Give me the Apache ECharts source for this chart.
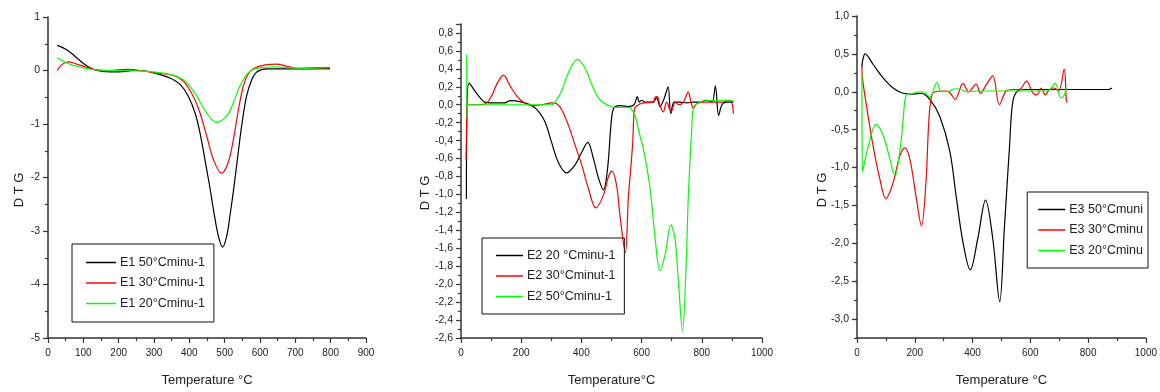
<!DOCTYPE html>
<html>
<head>
<meta charset="utf-8">
<script src="https://cdn.jsdelivr.net/npm/echarts@6/dist/echarts.min.js"></script>
<style>
  html, body { margin: 0; padding: 0; background: #fff; }
  #chart { width: 1160px; height: 392px; }
</style>
</head>
<body>
<div id="chart"></div>
<script>
// DTG curves, [temperature °C, DTG]
const E1_50 = [[26,0.47],[53,0.39],[81,0.24],[109,0.09],[138,0.0],[175,-0.025],[213,-0.02],[240,0.0],[270,-0.005],[308,-0.06],[345,-0.14],[374,-0.26],[397,-0.48],[416,-0.79],[430,-1.16],[444,-1.66],[459,-2.22],[468,-2.59],[482,-3.09],[494,-3.30],[506,-3.09],[515,-2.71],[525,-2.24],[536,-1.66],[548,-1.04],[562,-0.48],[577,-0.17],[591,-0.03],[619,0.03],[666,0.03],[713,0.03],[798,0.04]];
const E1_30 = [[26,0.0],[39,0.11],[57,0.16],[81,0.12],[109,0.06],[138,0.01],[175,0.0],[222,0.02],[260,0.0],[308,-0.05],[355,-0.09],[383,-0.2],[411,-0.48],[430,-0.79],[449,-1.22],[468,-1.66],[491,-1.92],[510,-1.72],[525,-1.28],[539,-0.73],[553,-0.29],[567,-0.06],[586,0.05],[619,0.11],[647,0.12],[676,0.08],[704,0.04],[751,0.05],[798,0.05]];
const E1_20 = [[26,0.24],[53,0.14],[81,0.08],[109,0.04],[138,0.01],[175,0.0],[222,0.0],[270,-0.01],[317,-0.04],[364,-0.11],[393,-0.23],[421,-0.48],[449,-0.79],[477,-0.97],[506,-0.85],[525,-0.6],[543,-0.29],[567,-0.04],[591,0.04],[638,0.07],[685,0.05],[798,0.02]];

const E2_20 = [[18,-1.05],[20,0.0],[27,0.24],[46,0.155],[63,0.08],[80,0.03],[120,0.02],[146,0.02],[163,0.045],[202,0.03],[235,-0.01],[257,-0.07],[279,-0.19],[301,-0.42],[323,-0.64],[351,-0.76],[379,-0.67],[401,-0.53],[421,-0.42],[440,-0.6],[456,-0.81],[473,-0.95],[487,-0.71],[500,-0.16],[509,-0.03],[530,-0.01],[556,-0.02],[575,0.0],[586,0.09],[592,0.03],[600,0.05],[611,0.03],[639,0.03],[650,0.08],[661,-0.02],[675,0.07],[688,0.2],[697,-0.1],[708,0.03],[728,0.03],[750,0.02],[772,0.03],[794,0.03],[816,0.05],[834,0.03],[845,0.21],[856,-0.12],[867,0.0],[883,0.03],[905,0.03]];
const E2_30 = [[17,-0.62],[19,-0.15],[21,0.0],[50,0.0],[80,0.01],[102,0.1],[119,0.23],[141,0.33],[163,0.21],[185,0.1],[207,0.03],[235,-0.01],[270,0.0],[301,0.02],[318,0.01],[334,-0.05],[357,-0.23],[379,-0.45],[401,-0.67],[423,-0.93],[448,-1.15],[473,-1.01],[490,-0.8],[502,-0.74],[517,-0.9],[528,-1.23],[546,-1.65],[556,-1.04],[570,-0.45],[576,-0.05],[584,-0.01],[606,0.02],[639,0.03],[644,0.08],[652,0.09],[661,-0.01],[672,-0.08],[683,0.03],[698,-0.08],[712,0.03],[723,0.0],[739,0.03],[755,0.14],[764,0.03],[772,-0.04],[783,0.01],[805,0.03],[840,0.03],[870,0.03],[888,0.05],[899,0.03],[905,-0.1]];
const E2_50 = [[19,0.56],[20,-0.15],[22,0.0],[100,0.0],[200,0.0],[301,0.0],[312,0.03],[334,0.15],[357,0.36],[387,0.505],[412,0.41],[434,0.23],[456,0.08],[478,0.01],[500,-0.02],[506,-0.03],[555,-0.03],[573,-0.08],[584,-0.19],[597,-0.38],[606,-0.49],[628,-0.93],[645,-1.49],[661,-1.85],[678,-1.67],[697,-1.34],[711,-1.49],[722,-1.96],[736,-2.53],[748,-1.78],[755,-1.04],[763,-0.49],[766,-0.3],[772,-0.03],[783,0.01],[805,0.04],[872,0.05],[905,0.05]];

const E3_50 = [[17,0.33],[20,0.42],[28,0.5],[56,0.36],[91,0.18],[125,0.05],[160,-0.02],[194,-0.03],[223,-0.02],[252,-0.1],[286,-0.32],[321,-0.78],[344,-1.4],[367,-1.99],[392,-2.35],[418,-1.94],[445,-1.43],[470,-1.94],[494,-2.77],[510,-1.81],[528,-0.72],[539,-0.14],[556,0.01],[585,0.03],[700,0.03],[800,0.03],[870,0.03],[883,0.05]];
const E3_30 = [[17,0.34],[18,0.22],[33,-0.19],[56,-0.72],[79,-1.15],[100,-1.41],[125,-1.2],[148,-0.85],[166,-0.74],[183,-0.89],[206,-1.42],[223,-1.77],[238,-1.24],[249,-0.36],[258,-0.06],[270,0.0],[309,0.01],[323,-0.02],[340,-0.1],[367,0.11],[387,0.0],[412,0.1],[428,-0.02],[447,0.09],[470,0.21],[493,-0.17],[516,0.01],[539,0.03],[562,0.03],[587,0.14],[608,-0.01],[623,-0.04],[637,0.05],[652,-0.04],[666,0.03],[681,0.05],[698,0.01],[717,0.3],[725,-0.12],[729,-0.14]];
const E3_20 = [[17,0.23],[19,-1.06],[39,-0.72],[66,-0.43],[91,-0.58],[114,-0.89],[131,-1.11],[148,-0.8],[160,-0.36],[171,-0.04],[194,-0.02],[217,0.0],[234,-0.01],[252,-0.07],[277,0.12],[292,0.0],[320,0.01],[341,0.04],[360,0.03],[380,0.0],[420,0.01],[500,0.01],[600,0.01],[660,0.01],[686,0.11],[706,-0.08],[717,-0.05],[725,0.05]];

const NAMES1 = ['E1 50°Cminu-1', 'E1 30°Cminu-1', 'E1 20°Cminu-1'];
const NAMES2 = ['E2 20 °Cminu-1', 'E2 30°Cminut-1', 'E2 50°Cminu-1'];
const NAMES3 = ['E3 50°Cmuni', 'E3 30°Cminu', 'E3 20°Cminu'];
const X_TITLES = ['Temperature °C', 'Temperature°C', 'Temperature °C'];
const Y_TITLE = 'D T G';
const P3_MAJOR = [-3, -2.5, -2, -1.5, -1, -0.5, 0, 0.5, 1];

const COLORS = ['#000000', '#ff0000', '#00ff00'];
const FONT = "'Liberation Sans', Arial, sans-serif";
const INK = '#222';

const comma = (d) => (v) => v.toFixed(d).replace('.', ',');
const plain = (v) => String(v);

function xAxis(grid, max, interval, name) {
  return {
    type: 'value', gridIndex: grid, min: 0, max: max, interval: interval,
    name: name, nameLocation: 'middle', nameGap: 36,
    nameTextStyle: { fontFamily: FONT, fontSize: 13, color: INK },
    axisLine: { show: true, onZero: false, lineStyle: { color: '#333', width: 1.5 } },
    axisTick: { show: true, length: 5, lineStyle: { color: '#333', width: 1.2 } },
    minorTick: { show: true, splitNumber: 2, length: 3, lineStyle: { color: '#333', width: 1.2 } },
    axisLabel: { fontFamily: FONT, fontSize: 10, color: INK, margin: 10, formatter: plain },
    splitLine: { show: false }
  };
}

function yAxis(grid, min, max, interval, fmt, minor) {
  return {
    type: 'value', gridIndex: grid, min: min, max: max, interval: interval,
    axisLine: { show: true, onZero: false, lineStyle: { color: '#333', width: 1.5 } },
    axisTick: { show: true, length: 5, lineStyle: { color: '#333', width: 1.2 } },
    minorTick: { show: minor, splitNumber: 2, length: 3, lineStyle: { color: '#333', width: 1.2 } },
    axisLabel: { fontFamily: FONT, fontSize: 10.5, color: INK, margin: 8, formatter: fmt },
    splitLine: { show: false }
  };
}

const y3 = yAxis(2, -3.25, 1, 0.25, comma(1), false);
y3.axisLabel.customValues = P3_MAJOR;
y3.axisTick.customValues = P3_MAJOR;
const y3minor = {
  type: 'value', gridIndex: 2, min: -3.25, max: 1, interval: 0.25, position: 'left',
  axisLine: { show: false },
  axisTick: { show: true, length: 3, lineStyle: { color: '#333', width: 1.2 } },
  axisLabel: { show: false }, splitLine: { show: false }
};

function line(name, data, color, xi, yi) {
  return {
    type: 'line', name: name, data: data, xAxisIndex: xi, yAxisIndex: yi,
    symbol: 'none', smooth: 0.35, lineStyle: { color: color, width: 1.2 },
    itemStyle: { color: color }, silent: true
  };
}

function legend(names, pos, itemWidth, padding) {
  return Object.assign({
    data: names, orient: 'vertical', icon: 'rect',
    itemWidth: itemWidth, itemHeight: 1.5, itemGap: 7.5, padding: padding,
    borderColor: '#111', borderWidth: 1, selectedMode: false,
    textStyle: { fontFamily: FONT, fontSize: 12.5, color: INK, padding: [0, 0, 0, -1] }
  }, pos);
}

function yTitle(x, y) {
  return {
    type: 'text', x: x, y: y, rotation: Math.PI / 2,
    style: { text: Y_TITLE, fontFamily: FONT, fontSize: 13, fill: INK, align: 'center', verticalAlign: 'middle' }
  };
}

const chart = echarts.init(document.getElementById('chart'), null, { renderer: 'canvas' });
chart.setOption({
  animation: false,
  backgroundColor: '#fff',
  grid: [
    { left: 48, top: 17, width: 318, height: 323 },
    { left: 461, top: 24, width: 301, height: 317 },
    { left: 857, top: 16, width: 290, height: 323 }
  ],
  xAxis: [
    xAxis(0, 900, 100, X_TITLES[0]),
    xAxis(1, 1000, 200, X_TITLES[1]),
    xAxis(2, 1000, 200, X_TITLES[2])
  ],
  yAxis: [
    yAxis(0, -5, 1, 1, plain, true),
    yAxis(1, -2.6, 0.9, 0.2, comma(1), true),
    y3,
    y3minor
  ],
  legend: [
    legend(NAMES1, { left: 72, top: 244 }, 30, [12, 9, 12, 14]),
    legend(NAMES2, { left: 482, top: 238 }, 27, [11, 9, 11, 14]),
    legend(NAMES3, { right: 12, top: 192 }, 27, [11, 5, 11, 11])
  ],
  graphic: [yTitle(19, 190), yTitle(425, 193), yTitle(822, 190)],
  series: [
    line(NAMES1[0], E1_50, COLORS[0], 0, 0),
    line(NAMES1[1], E1_30, COLORS[1], 0, 0),
    line(NAMES1[2], E1_20, COLORS[2], 0, 0),
    line(NAMES2[0], E2_20, COLORS[0], 1, 1),
    line(NAMES2[1], E2_30, COLORS[1], 1, 1),
    line(NAMES2[2], E2_50, COLORS[2], 1, 1),
    line(NAMES3[0], E3_50, COLORS[0], 2, 2),
    line(NAMES3[1], E3_30, COLORS[1], 2, 2),
    line(NAMES3[2], E3_20, COLORS[2], 2, 2)
  ]
});
</script>
</body>
</html>
